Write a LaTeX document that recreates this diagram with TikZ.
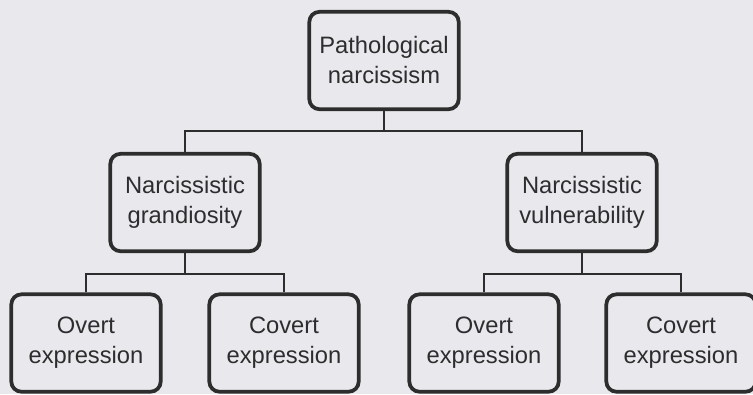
\documentclass[tikz,border=0pt]{standalone}
\usepackage{fontspec}
\setmainfont{Liberation Sans}
\definecolor{paper}{RGB}{233,232,237}
\definecolor{ink}{RGB}{45,45,45}
\tikzset{
  box/.style={draw=ink, line width=2.8pt, rounded corners=7.5pt, align=center,
    minimum width=112pt, minimum height=73pt, inner sep=0pt, text=ink,
    font=\fontsize{17.8}{22.5}\selectfont},
  link/.style={draw=ink, line width=2.2pt}
}
\begin{document}
\begin{tikzpicture}[x=0.75pt,y=-0.75pt]
     \useasboundingbox (0,0) rectangle (753,394);
     \fill[paper] (0,0) rectangle (753,394);
     \node[box] (top) at (384,60.5) {Pathological\\narcissism};
     \node[box] (gra) at (185,202.5) {Narcissistic\\grandiosity};
     \node[box] (vul) at (582,202.5) {Narcissistic\\vulnerability};
     \node[box] (gov) at (86,343) {Overt\\expression};
     \node[box] (gco) at (284,343) {Covert\\expression};
     \node[box] (vov) at (484,343) {Overt\\expression};
     \node[box] (vco) at (681,343) {Covert\\expression};
     \coordinate (j1) at (384,131);
     \coordinate (j2) at (185,274);
     \coordinate (j3) at (582,274);
     \draw[link] (top.south) -- (j1);
     \draw[link] (j1) -| (gra.north);
     \draw[link] (j1) -| (vul.north);
     \draw[link] (gra.south) -- (j2);
     \draw[link] (j2) -| (gov.north);
     \draw[link] (j2) -| (gco.north);
     \draw[link] (vul.south) -- (j3);
     \draw[link] (j3) -| (vov.north);
     \draw[link] (j3) -| (vco.north);
\end{tikzpicture}
\end{document}
